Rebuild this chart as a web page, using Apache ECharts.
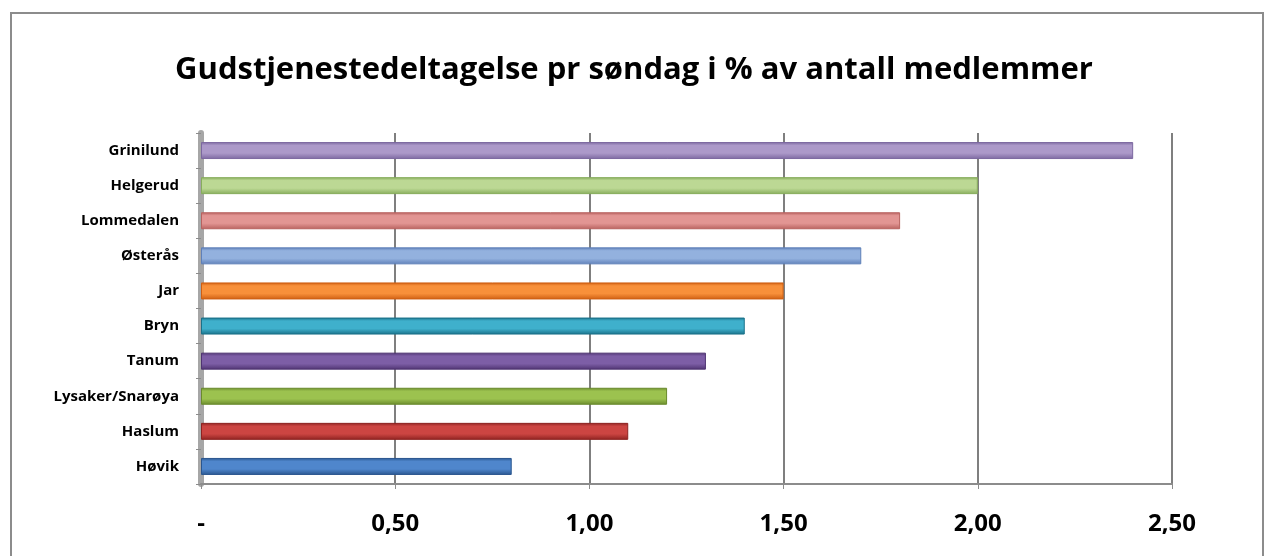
<!DOCTYPE html>
<html>
<head>
<meta charset="utf-8">
<script src="https://cdn.jsdelivr.net/npm/echarts@6/dist/echarts.min.js"></script>
<style>
    html, body { margin: 0; padding: 0; background: #fff; }
    #frame {
        position: absolute;
        left: 10px;
        top: 12px;
        width: 1254px;
        height: 560px;
        border: 2px solid #8c8c8c;
        box-sizing: border-box;
    }
    #main {
        position: absolute;
        left: 0;
        top: 0;
        width: 1268px;
        height: 556px;
    }
</style>
</head>
<body>
<div id="frame"></div>
<div id="main"></div>
<script>
    // bottom to top, like the picture
    var categories = ['Høvik', 'Haslum', 'Lysaker/Snarøya', 'Tanum', 'Bryn', 'Jar', 'Østerås', 'Lommedalen', 'Helgerud', 'Grinilund'];
    var values = [0.8, 1.1, 1.2, 1.3, 1.4, 1.5, 1.7, 1.8, 2.0, 2.4];
    var tickLabels = ['-', '0,50', '1,00', '1,50', '2,00', '2,50'];

    // light, dark pairs per bar
    var barColors = [
        ['#4f86cc', '#2a568f'],
        ['#cc4542', '#8e2321'],
        ['#9cc24f', '#6a8a2c'],
        ['#7d5ea6', '#4f3472'],
        ['#3fb0cc', '#1a7189'],
        ['#f8903a', '#cf5f12'],
        ['#93b1de', '#5f80b9'],
        ['#e29593', '#b8625f'],
        ['#bcd894', '#87ad5c'],
        ['#ac99c9', '#7c68a0']
    ];

    var data = values.map(function (v, i) {
        return {
            value: v,
            itemStyle: {
                color: new echarts.graphic.LinearGradient(0, 0, 0, 1, [
                    { offset: 0, color: barColors[i][1] },
                    { offset: 0.2, color: barColors[i][0] },
                    { offset: 0.65, color: barColors[i][0] },
                    { offset: 1, color: barColors[i][1] }
                ]),
                borderColor: barColors[i][1],
                borderWidth: 1
            }
        };
    });

    var chart = echarts.init(document.getElementById('main'));
    chart.setOption({
        animation: false,
        title: {
            text: 'Gudstjenestedeltagelse pr søndag i % av antall medlemmer',
            left: 'center',
            top: 50,
            textStyle: {
                fontFamily: 'Open Sans',
                fontWeight: 'bold',
                fontSize: 31,
                color: '#000'
            }
        },
        grid: {
            left: 201,
            right: 96,
            top: 133,
            bottom: 72
        },
        xAxis: {
            type: 'value',
            min: 0,
            max: 2.5,
            interval: 0.5,
            axisLine: { show: true, lineStyle: { color: '#8c8c8c', width: 2 } },
            axisTick: { show: true, length: 5, lineStyle: { color: '#8c8c8c' } },
            splitLine: { show: true, lineStyle: { color: '#7f7f7f', width: 2 } },
            axisLabel: {
                margin: 28,
                fontFamily: 'Open Sans',
                fontWeight: 'bold',
                fontSize: 24,
                color: '#000',
                formatter: function (v) {
                    return tickLabels[Math.round(v / 0.5)];
                }
            }
        },
        yAxis: {
            type: 'category',
            data: categories,
            axisLine: { show: true, lineStyle: { color: '#a6a6a6', width: 6 } },
            axisTick: { show: true, length: 5, lineStyle: { color: '#8c8c8c' } },
            axisLabel: {
                margin: 22,
                fontFamily: 'Open Sans',
                fontWeight: 'bold',
                fontSize: 15,
                color: '#000'
            }
        },
        series: [{
            type: 'bar',
            barWidth: 17,
            data: data
        }]
    });
</script>
</body>
</html>
